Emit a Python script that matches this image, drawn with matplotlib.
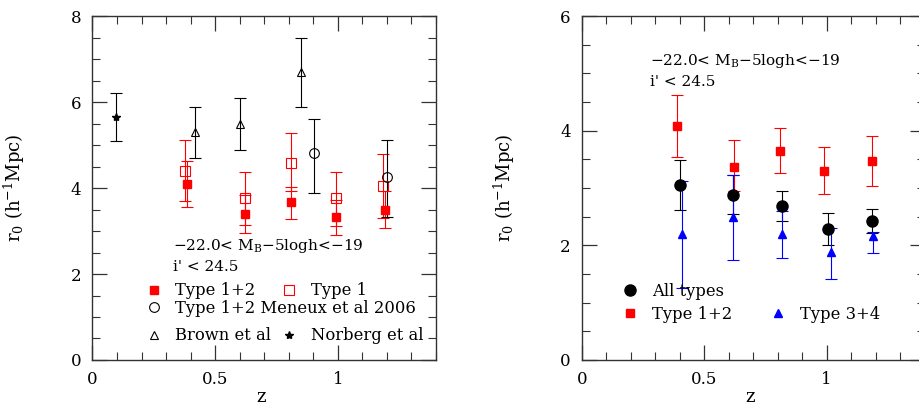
import matplotlib
matplotlib.use("Agg")
import matplotlib.pyplot as plt
from matplotlib.legend import Legend
from matplotlib.ticker import MultipleLocator

plt.rcParams['font.family'] = ['DejaVu Serif']
plt.rcParams['mathtext.fontset'] = 'dejavuserif'

# ---- left panel data ----
z12 = [0.387, 0.62, 0.81, 0.993, 1.191]          # Type 1+2 (filled)
r12 = [4.09, 3.39, 3.67, 3.32, 3.49]
r12_lo = [3.55, 2.95, 3.27, 2.91, 3.06]
r12_hi = [4.63, 3.83, 4.03, 3.73, 3.92]

z1 = [0.379, 0.62, 0.81, 0.993, 1.183]           # Type 1 (open)
r1 = [4.40, 3.76, 4.59, 3.76, 4.05]
r1_lo = [3.70, 3.14, 3.94, 3.12, 3.31]
r1_hi = [5.12, 4.38, 5.27, 4.38, 4.79]

z_men = [0.901, 1.20]                            # Meneux et al 2006
r_men = [4.81, 4.25]
r_men_lo = [3.88, 3.32]
r_men_hi = [5.60, 5.12]

z_brown = [0.418, 0.602, 0.851]                  # Brown et al
r_brown = [5.31, 5.50, 6.71]
r_brown_lo = [4.69, 4.89, 5.89]
r_brown_hi = [5.89, 6.09, 7.48]

z_norb = [0.096]                                 # Norberg et al
r_norb = [5.65]
r_norb_lo = [5.09]
r_norb_hi = [6.21]

# ---- right panel data ----
z_all = [0.40, 0.619, 0.817, 1.006, 1.186]
r_all = [3.06, 2.88, 2.68, 2.29, 2.42]
r_all_lo = [2.62, 2.55, 2.43, 2.01, 2.21]
r_all_hi = [3.49, 3.22, 2.94, 2.57, 2.64]

z_t12 = [0.389, 0.62, 0.81, 0.991, 1.186]
r_t12 = [4.08, 3.37, 3.65, 3.30, 3.47]
r_t12_lo = [3.54, 2.95, 3.26, 2.90, 3.04]
r_t12_hi = [4.63, 3.83, 4.04, 3.72, 3.91]

z_t34 = [0.409, 0.619, 0.817, 1.016, 1.19]
r_t34 = [2.20, 2.50, 2.20, 1.88, 2.17]
r_t34_lo = [1.26, 1.75, 1.78, 1.42, 1.87]
r_t34_hi = [3.13, 3.22, 2.60, 2.31, 2.23]

cut_label = '\u221222.0< M$_\\mathrm{B}$\u22125logh<\u221219'


def err(v, lo, hi):
    return [[a - b for a, b in zip(v, lo)], [b - a for a, b in zip(v, hi)]]


def eb(ax, x, y, lo, hi, color, fmt, **kw):
    return ax.errorbar(x, y, yerr=err(y, lo, hi), fmt=fmt, color=color, ecolor=color,
                       elinewidth=0.8, capsize=4, capthick=0.8, linestyle='none', **kw)


def entry(ax, handle, label, x, y):
    # one legend entry per call, placed where the original has it
    leg = Legend(ax, [handle], [label], loc='center left', bbox_to_anchor=(x - 0.031, y),
                 bbox_transform=ax.transData, frameon=False, borderpad=0,
                 borderaxespad=0, handlelength=1.0, handletextpad=0.8, fontsize=11.8)
    ax.add_artist(leg)


def style(ax, ymax):
    ax.set_xlim(0, 1.4)
    ax.set_ylim(0, ymax)
    ax.xaxis.set_minor_locator(MultipleLocator(0.1))
    ax.yaxis.set_major_locator(MultipleLocator(2))
    ax.yaxis.set_minor_locator(MultipleLocator(0.5))
    ax.set_xticks([0, 0.5, 1])
    ax.set_xticklabels(['0', '0.5', '1'])
    ax.tick_params(which='both', direction='in', top=True, right=True, labelsize=12,
                   color='#333333')
    ax.tick_params(which='major', length=11, width=0.9)
    ax.tick_params(which='minor', length=6, width=0.8)
    ax.tick_params(axis='both', pad=8)
    for s in ax.spines.values():
        s.set_linewidth(1.0)
        s.set_color('#333333')
    ax.set_xlabel('z', fontsize=13)
    ax.set_ylabel(r'r$_0$ (h$^{-1}$Mpc)', fontsize=13)
    ax.xaxis.set_label_coords(0.49, -0.08)
    ax.yaxis.set_label_coords(-0.19, 0.5)


fig = plt.figure(figsize=(9.2, 4.07), dpi=100)
ax1 = fig.add_axes([0.1005, 0.1155, 0.3734, 0.845])
ax2 = fig.add_axes([0.6323, 0.1155, 0.3728, 0.845])

# left panel
h12 = eb(ax1, z12, r12, r12_lo, r12_hi, 'red', 's', ms=6)
h1 = eb(ax1, z1, r1, r1_lo, r1_hi, 'red', 's', ms=7, mfc='none', mew=0.8)
hmen = eb(ax1, z_men, r_men, r_men_lo, r_men_hi, 'black', 'o', ms=7, mfc='none', mew=0.8)
hbr = eb(ax1, z_brown, r_brown, r_brown_lo, r_brown_hi, 'black', '^', ms=6, mfc='none', mew=0.8)
hno = eb(ax1, z_norb, r_norb, r_norb_lo, r_norb_hi, 'black', '*', ms=6)
style(ax1, 8)

ax1.text(0.33, 2.65, cut_label, fontsize=11, va='center')
ax1.text(0.33, 2.17, "i' < 24.5", fontsize=11, va='center')
entry(ax1, h12[0], 'Type 1+2', 0.248, 1.61)
entry(ax1, h1[0], 'Type 1', 0.80, 1.61)
entry(ax1, hmen[0], 'Type 1+2 Meneux et al 2006', 0.248, 1.20)
entry(ax1, hbr[0], 'Brown et al', 0.248, 0.56)
entry(ax1, hno[0], 'Norberg et al', 0.80, 0.56)

# right panel
ht12 = eb(ax2, z_t12, r_t12, r_t12_lo, r_t12_hi, 'red', 's', ms=6)
hall = eb(ax2, z_all, r_all, r_all_lo, r_all_hi, 'black', 'o', ms=8)
ht34 = eb(ax2, z_t34, r_t34, r_t34_lo, r_t34_hi, 'blue', '^', ms=6)
style(ax2, 6)

ax2.text(0.278, 5.22, cut_label, fontsize=11, va='center')
ax2.text(0.278, 4.85, "i' < 24.5", fontsize=11, va='center')
entry(ax2, hall[0], 'All types', 0.196, 1.20)
entry(ax2, ht12[0], 'Type 1+2', 0.196, 0.80)
entry(ax2, ht34[0], 'Type 3+4', 0.80, 0.80)

fig.savefig('out.png', dpi=100)
